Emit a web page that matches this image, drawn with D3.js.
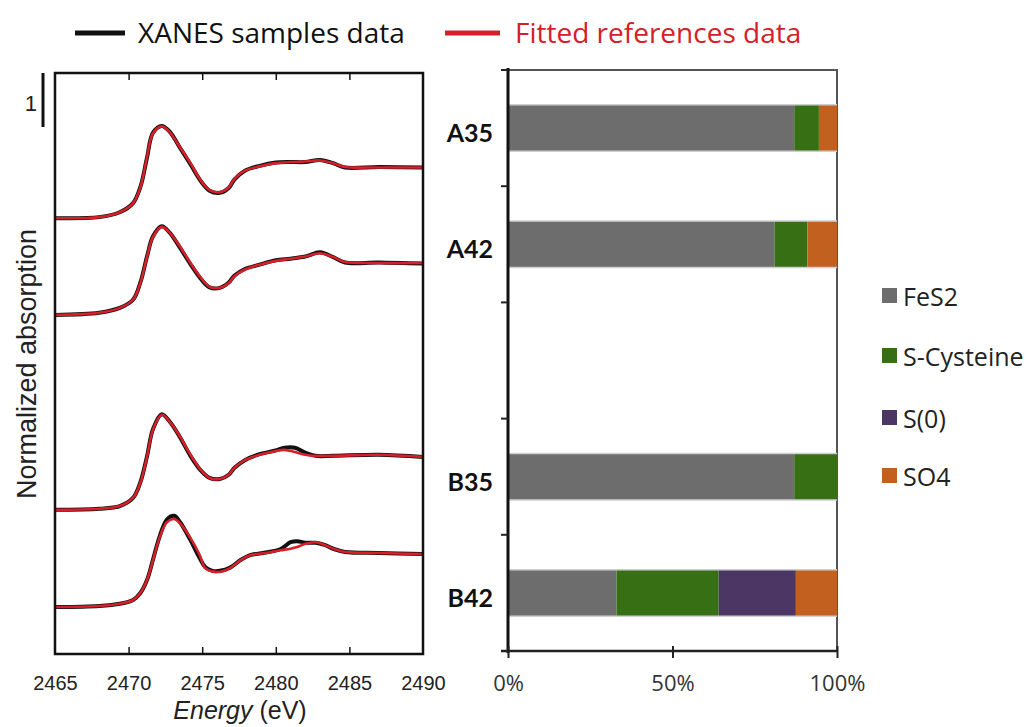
<!DOCTYPE html>
<html>
<head>
<meta charset="utf-8">
<script src="https://cdn.jsdelivr.net/npm/d3@7"></script>
<style>
  html, body { margin: 0; padding: 0; background: #fff; }
  svg { display: block; }
</style>
</head>
<body>
<svg id="chart" width="1029" height="727"></svg>
<script>
// ---------------- DATA ----------------
// Energy axis ticks (eV)
const energyTicks = [2465, 2470, 2475, 2480, 2485, 2490];
// Vertical stacking offsets of each spectrum (normalized absorption units)
const sampleNames = ["A35", "A42", "B35", "B42"];
const spectrumOffsets = [8.07, 6.28, 2.67, 0.87];

// Spectra: [energy (eV), normalized absorption]
const a35Sample = [[2465,0],[2468,0.02],[2469.4,0.11],[2470.3,0.28],[2470.8,0.58],[2471.25,1.12],[2471.65,1.58],[2472.25,1.71],[2472.8,1.60],[2473.5,1.30],[2474.2,1.00],[2474.9,0.69],[2475.5,0.51],[2476.2,0.47],[2476.8,0.56],[2477.2,0.72],[2477.9,0.88],[2478.9,0.97],[2480,1.03],[2481,1.04],[2482,1.04],[2483,1.08],[2483.9,1.02],[2484.7,0.94],[2487,0.95],[2490,0.94]];
const a35Fit    = [[2465,0],[2468,0.02],[2469.4,0.11],[2470.3,0.28],[2470.8,0.57],[2471.25,1.13],[2471.65,1.57],[2472.25,1.70],[2472.8,1.59],[2473.5,1.31],[2474.2,1.02],[2474.9,0.70],[2475.5,0.52],[2476.2,0.48],[2476.8,0.57],[2477.2,0.73],[2477.9,0.88],[2478.9,0.96],[2480,1.02],[2481,1.04],[2482,1.05],[2483,1.07],[2483.9,1.02],[2484.7,0.95],[2487,0.94],[2490,0.94]];

const a42Sample = [[2465,0],[2468,0.04],[2469.4,0.13],[2470.3,0.28],[2470.8,0.60],[2471.25,1.08],[2471.65,1.45],[2472.25,1.64],[2472.8,1.52],[2473.5,1.24],[2474.2,0.94],[2474.9,0.67],[2475.5,0.51],[2476.2,0.50],[2476.8,0.60],[2477.2,0.73],[2477.9,0.85],[2478.9,0.93],[2480,1.01],[2481,1.04],[2482,1.08],[2483,1.16],[2483.9,1.07],[2484.7,0.97],[2487,0.97],[2490,0.95]];
const a42Fit    = [[2465,0],[2468,0.04],[2469.4,0.13],[2470.3,0.28],[2470.8,0.59],[2471.25,1.07],[2471.65,1.44],[2472.25,1.63],[2472.8,1.52],[2473.5,1.26],[2474.2,0.96],[2474.9,0.69],[2475.5,0.52],[2476.2,0.50],[2476.8,0.59],[2477.2,0.72],[2477.9,0.84],[2478.9,0.93],[2480,1.00],[2481,1.04],[2482,1.08],[2483,1.14],[2483.9,1.07],[2484.7,0.98],[2487,0.96],[2490,0.96]];

const b35Sample = [[2465,0],[2468,0.02],[2469.4,0.07],[2470.3,0.22],[2470.8,0.51],[2471.25,0.99],[2471.65,1.49],[2472.25,1.77],[2472.8,1.63],[2473.5,1.34],[2474.2,1.00],[2474.9,0.73],[2475.5,0.59],[2476.2,0.57],[2476.8,0.65],[2477.2,0.78],[2477.9,0.92],[2478.9,1.03],[2480,1.10],[2480.6,1.15],[2481.3,1.15],[2482,1.06],[2482.7,1.00],[2483.9,1.00],[2487,1.02],[2490,0.98]];
const b35Fit    = [[2465,0],[2468,0.02],[2469.4,0.07],[2470.3,0.22],[2470.8,0.50],[2471.25,0.98],[2471.65,1.48],[2472.25,1.76],[2472.8,1.63],[2473.5,1.35],[2474.2,1.02],[2474.9,0.74],[2475.5,0.59],[2476.2,0.57],[2476.8,0.65],[2477.2,0.78],[2477.9,0.92],[2478.9,1.02],[2480,1.09],[2480.6,1.11],[2481.3,1.07],[2482,1.02],[2482.7,1.00],[2483.9,1.00],[2487,1.02],[2490,0.98]];

const b42Sample = [[2465,0],[2468,0.02],[2469.4,0.06],[2470.3,0.13],[2470.8,0.26],[2471.25,0.50],[2471.65,0.87],[2472.1,1.30],[2472.6,1.62],[2473.1,1.69],[2473.5,1.57],[2474.2,1.24],[2474.8,0.92],[2475.2,0.74],[2475.7,0.67],[2476.2,0.67],[2476.9,0.73],[2477.6,0.87],[2478.25,0.96],[2479.3,1.01],[2480.3,1.07],[2481,1.20],[2481.45,1.22],[2482,1.19],[2482.7,1.19],[2483.3,1.15],[2484,1.07],[2484.7,1.02],[2487,1.00],[2490,0.98]];
const b42Fit    = [[2465,0],[2468,0.02],[2469.4,0.06],[2470.3,0.13],[2470.8,0.26],[2471.25,0.50],[2471.65,0.86],[2472.1,1.28],[2472.6,1.57],[2473.1,1.63],[2473.5,1.55],[2474.2,1.28],[2474.8,0.98],[2475.2,0.72],[2475.7,0.66],[2476.2,0.65],[2476.9,0.72],[2477.6,0.87],[2478.25,0.96],[2479.3,1.00],[2480.3,1.05],[2481,1.08],[2481.45,1.11],[2482,1.17],[2482.7,1.20],[2483.3,1.15],[2484,1.07],[2484.7,1.02],[2487,1.00],[2490,0.98]];

const sampleSpectra = [a35Sample, a42Sample, b35Sample, b42Sample];
const fitSpectra    = [a35Fit, a42Fit, b35Fit, b42Fit];

// Linear combination fit results (%)
const barCategories = ["A35", "A42", "", "B35", "B42"];
const references = ["FeS2", "S-Cysteine", "S(0)", "SO4"];
const fes2Values  = [87, 81, null, 87, 33];
const cysValues   = [7.5, 10, null, 13, 31];
const s0Values    = [0, 0, null, 0, 23.5];
const so4Values   = [5.5, 9, null, 0, 12.5];
const percentTicks = [0, 50, 100];
const refColors = ["#6d6d6d", "#376f14", "#4b3664", "#c2601f"];

// ---------------- DRAW ----------------
const svg = d3.select("#chart");

// ---- Left panel: XANES spectra ----
const L = {x0: 55, x1: 423, y0: 73, y1: 654};
const xE = d3.scaleLinear().domain([2465, 2490]).range([L.x0, L.x1]);
const yA = d3.scaleLinear().domain([0, (L.y1 - L.y0) / 54]).range([L.y1, L.y0]);

const gLeft = svg.append("g");

svg.append("defs").append("clipPath").attr("id", "lclip")
  .append("rect").attr("x", L.x0).attr("y", L.y0).attr("width", L.x1 - L.x0).attr("height", L.y1 - L.y0);

const spectra = gLeft.append("g").attr("clip-path", "url(#lclip)");
const curveType = d3.curveCatmullRom.alpha(0.5);
sampleSpectra.forEach((s, i) => {
  const off = spectrumOffsets[i];
  const line = d3.line().x(d => xE(d[0])).y(d => yA(d[1] + off)).curve(curveType);
  spectra.append("path").datum(s).attr("d", line)
    .attr("fill", "none").attr("stroke", "#111").attr("stroke-width", 4).attr("stroke-linejoin", "round");
});
fitSpectra.forEach((s, i) => {
  const off = spectrumOffsets[i];
  const line = d3.line().x(d => xE(d[0])).y(d => yA(d[1] + off)).curve(curveType);
  spectra.append("path").datum(s).attr("d", line)
    .attr("fill", "none").attr("stroke", "#d5202a").attr("stroke-width", 2.6).attr("stroke-linejoin", "round");
});

// frame
gLeft.append("rect").attr("x", L.x0).attr("y", L.y0).attr("width", L.x1 - L.x0).attr("height", L.y1 - L.y0)
  .attr("fill", "none").attr("stroke", "#111").attr("stroke-width", 2.5);

// bottom axis (inward ticks)
const axB = d3.axisBottom(xE).tickValues(energyTicks).tickSize(-7).tickPadding(22).tickFormat(d3.format("d"));
const gB = gLeft.append("g").attr("transform", `translate(0,${L.y1})`).call(axB);
gB.select(".domain").remove();
gB.selectAll("line").attr("stroke", "#111").attr("stroke-width", 1.5);
gB.selectAll("text").attr("font-family", "Liberation Sans, Arial, sans-serif").attr("font-size", 20).attr("fill", "#222");
gB.selectAll(".tick").filter(d => d === 2465 || d === 2490).select("line").remove();
// top axis ticks
const axT = d3.axisTop(xE).tickValues(energyTicks.slice(1, -1)).tickSize(-7).tickFormat("");
const gT = gLeft.append("g").attr("transform", `translate(0,${L.y0})`).call(axT);
gT.select(".domain").remove();
gT.selectAll("line").attr("stroke", "#111").attr("stroke-width", 1.5);

// axis titles
const xt = gLeft.append("text").attr("x", 240).attr("y", 719).attr("text-anchor", "middle")
  .attr("font-family", "Liberation Sans, Arial, sans-serif").attr("font-size", 25).attr("fill", "#222");
xt.append("tspan").attr("font-style", "italic").text("Energy");
xt.append("tspan").text(" (eV)");

gLeft.append("text").attr("transform", "translate(36,364) rotate(-90)").attr("text-anchor", "middle")
  .attr("font-family", "Liberation Sans, Arial, sans-serif").attr("font-size", 27).attr("fill", "#222")
  .text("Normalized absorption");

// scale bar "1"
gLeft.append("line").attr("x1", 43).attr("x2", 43).attr("y1", yA(yA.domain()[1])).attr("y2", yA(yA.domain()[1] - 1))
  .attr("stroke", "#111").attr("stroke-width", 3);
gLeft.append("text").attr("x", 37).attr("y", 111).attr("text-anchor", "end")
  .attr("font-family", "Liberation Sans, Arial, sans-serif").attr("font-size", 22).attr("fill", "#222").text("1");

// ---- Right panel: stacked bars ----
const R = {x0: 508, x1: 837, y0: 70, y1: 651};
const xP = d3.scaleLinear().domain([0, 100]).range([R.x0, R.x1]);
const yB = d3.scaleBand().domain(d3.range(barCategories.length)).range([R.y0, R.y1]).paddingInner(0.6).paddingOuter(0.3);
const yBand = d3.scaleBand().domain(d3.range(barCategories.length)).range([R.y0, R.y1]);

const gRight = svg.append("g");
gRight.append("rect").attr("x", R.x0).attr("y", R.y0).attr("width", R.x1 - R.x0).attr("height", R.y1 - R.y0)
  .attr("fill", "none").attr("stroke", "#555").attr("stroke-width", 2);

const seriesVals = [fes2Values, cysValues, s0Values, so4Values];
barCategories.forEach((cat, i) => {
  if (fes2Values[i] === null) return;
  let acc = 0;
  seriesVals.forEach((vals, j) => {
    const v = vals[i];
    if (v > 0) {
      gRight.append("rect").attr("x", xP(acc)).attr("width", xP(acc + v) - xP(acc))
        .attr("y", yB(i)).attr("height", yB.bandwidth())
        .attr("fill", refColors[j]);
    }
    acc += v;
  });
  gRight.append("line").attr("x1", xP(0)).attr("x2", xP(100)).attr("y1", yB(i)).attr("y2", yB(i)).attr("stroke", "#cfcfcf").attr("stroke-width", 1.5);
  gRight.append("line").attr("x1", xP(0)).attr("x2", xP(100)).attr("y1", yB(i) + yB.bandwidth()).attr("y2", yB(i) + yB.bandwidth()).attr("stroke", "#cfcfcf").attr("stroke-width", 1.5);
  gRight.append("text").attr("x", 493).attr("y", yB(i) + yB.bandwidth() / 2 + 14).attr("text-anchor", "end")
    .attr("font-family", "Lato, 'Open Sans', sans-serif").attr("font-weight", "bold").attr("font-size", 25)
    .attr("fill", "#111").text(cat);
});

// left axis (category band ticks)
const bandEdges = yBand.domain().map(d => yBand(d)).concat([R.y1]);
gRight.append("line").attr("x1", R.x0).attr("x2", R.x0).attr("y1", R.y0 - 2).attr("y2", R.y1 + 2).attr("stroke", "#111").attr("stroke-width", 3);
gRight.selectAll(".bt").data(bandEdges).enter().append("line")
  .attr("x1", R.x0 - 7).attr("x2", R.x0).attr("y1", d => d).attr("y2", d => d).attr("stroke", "#222").attr("stroke-width", 2);

// bottom axis
const axP = d3.axisBottom(xP).tickValues(percentTicks).tickSize(7).tickPadding(17).tickFormat(d => d + "%");
const gP = gRight.append("g").attr("transform", `translate(0,${R.y1})`).call(axP);
gP.select(".domain").attr("stroke", "#222").attr("stroke-width", 2.5).attr("d", `M${R.x0 - 7},0H${R.x1}`);
gP.selectAll("line").attr("stroke", "#222").attr("stroke-width", 2).attr("y1", -5);
gP.selectAll("text").attr("font-family", "'Open Sans', sans-serif").attr("font-size", 22).attr("fill", "#333");

// right legend
const legY = [297, 357, 419, 477];
references.forEach((r, j) => {
  gRight.append("rect").attr("x", 882).attr("y", legY[j] - 9).attr("width", 15).attr("height", 15).attr("fill", refColors[j]);
  gRight.append("text").attr("x", 903).attr("y", legY[j] + 9).attr("font-family", "'Open Sans', sans-serif")
    .attr("font-size", 25).attr("fill", "#222").text(r);
});

// ---- Top legend ----
const gTopLegend = svg.append("g");
gTopLegend.append("line").attr("x1", 75).attr("x2", 125).attr("y1", 33).attr("y2", 33).attr("stroke", "#111").attr("stroke-width", 5);
gTopLegend.append("text").attr("x", 138).attr("y", 43).attr("font-family", "'Open Sans', sans-serif").attr("font-size", 28)
  .attr("fill", "#111").text("XANES samples data");
gTopLegend.append("line").attr("x1", 445).attr("x2", 500).attr("y1", 33).attr("y2", 33).attr("stroke", "#d5202a").attr("stroke-width", 5);
gTopLegend.append("text").attr("x", 515).attr("y", 43).attr("font-family", "'Open Sans', sans-serif").attr("font-size", 28)
  .attr("fill", "#d5202a").text("Fitted references data");
</script>
</body>
</html>
